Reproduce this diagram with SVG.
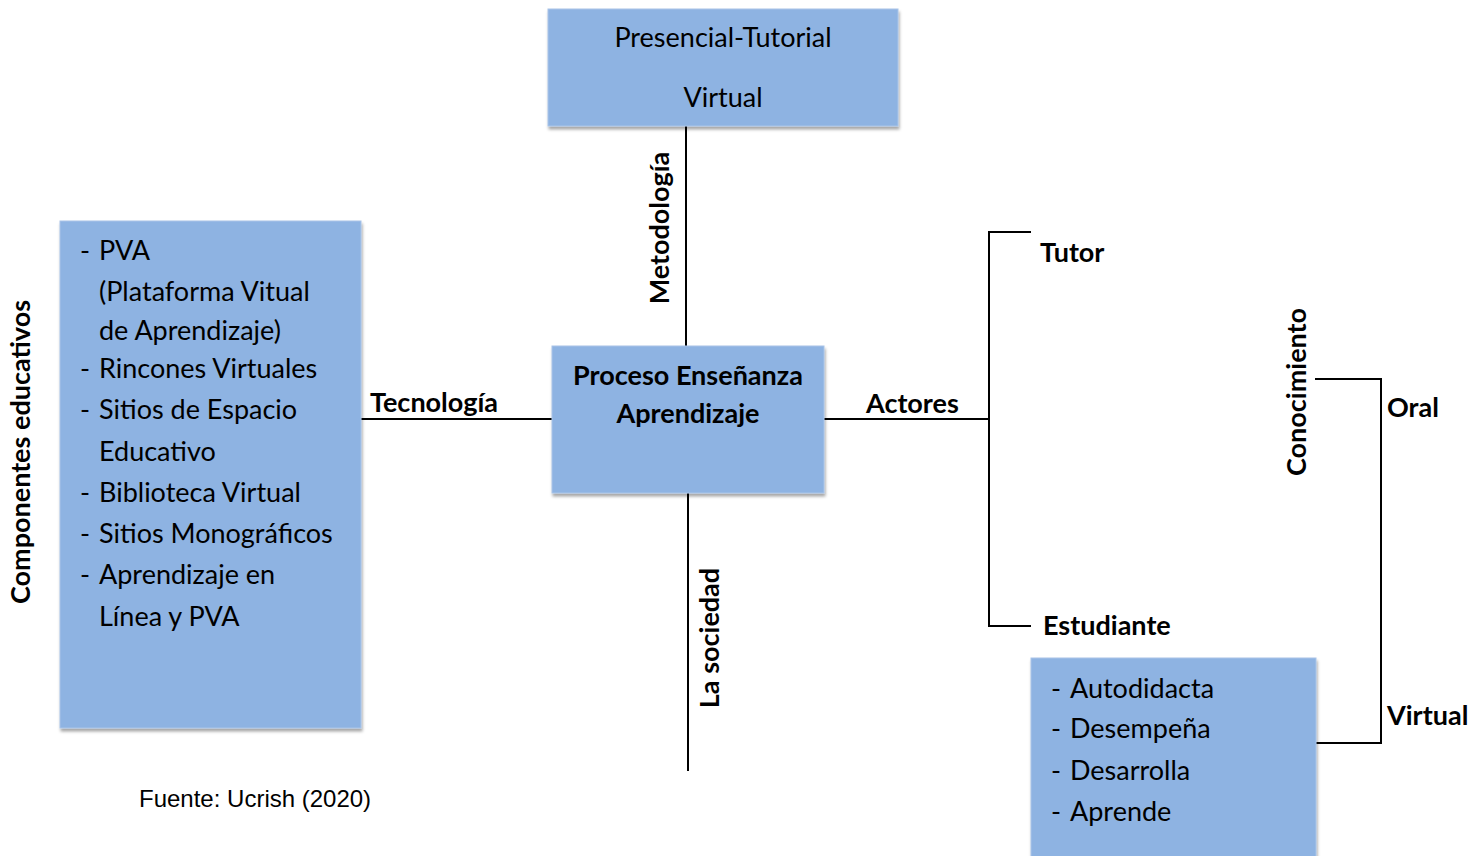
<svg xmlns="http://www.w3.org/2000/svg" width="1479" height="856" viewBox="0 0 1479 856">
<defs>
<filter id="sh" x="-5%" y="-5%" width="115%" height="115%">
<feDropShadow dx="1" dy="3" stdDeviation="1.5" flood-color="#000" flood-opacity="0.35"/>
</filter>
<style>
.box{fill:#8eb3e2;stroke:#a9c4e8;stroke-width:1;filter:url(#sh)}
.t{font-family:Lato,"Open Sans",sans-serif;font-size:27px;fill:#000}
.b{font-family:Lato,"Open Sans",sans-serif;font-size:27px;font-weight:bold;fill:#000}
.ln{stroke:#000;stroke-width:2;fill:none}
</style>
</defs>
<rect width="1479" height="856" fill="#fff"/>
<g id="connectors">
<line class="ln" x1="686" y1="126" x2="686" y2="346"/>
<line class="ln" x1="688" y1="493" x2="688" y2="771"/>
<line class="ln" x1="361" y1="419" x2="552" y2="419"/>
<line class="ln" x1="824" y1="419" x2="989" y2="419"/>
<polyline class="ln" points="1031,232 989,232 989,626 1031,626"/>
<polyline class="ln" points="1315,379 1381,379 1381,743 1315,743"/>
</g>
<g id="node-top">
<rect class="box" x="548" y="9" width="350" height="117"/>
<text class="t" x="723" y="47" text-anchor="middle">Presencial-Tutorial</text>
<text class="t" x="723" y="107" text-anchor="middle">Virtual</text>
</g>
<g id="node-center">
<rect class="box" x="552" y="346" width="272" height="147"/>
<text class="b" x="688" y="385" text-anchor="middle">Proceso Enseñanza</text>
<text class="b" x="688" y="423" text-anchor="middle">Aprendizaje</text>
</g>
<g id="node-left">
<rect class="box" x="60" y="221" width="301" height="507"/>
<text class="t" x="80" y="260">-</text><text class="t" x="99" y="260">PVA</text>
<text class="t" x="99" y="301">(Plataforma Vitual</text>
<text class="t" x="99" y="340">de Aprendizaje)</text>
<text class="t" x="80" y="378">-</text><text class="t" x="99" y="378">Rincones Virtuales</text>
<text class="t" x="80" y="419">-</text><text class="t" x="99" y="419">Sitios de Espacio</text>
<text class="t" x="99" y="461">Educativo</text>
<text class="t" x="80" y="502">-</text><text class="t" x="99" y="502">Biblioteca Virtual</text>
<text class="t" x="80" y="543">-</text><text class="t" x="99" y="543">Sitios Monográficos</text>
<text class="t" x="80" y="584">-</text><text class="t" x="99" y="584">Aprendizaje en</text>
<text class="t" x="99" y="626">Línea y PVA</text>
</g>
<g id="node-estudiante-box">
<rect class="box" x="1031" y="658" width="285" height="200"/>
<text class="t" x="1051" y="698">-</text><text class="t" x="1070" y="698">Autodidacta</text>
<text class="t" x="1051" y="738">-</text><text class="t" x="1070" y="738">Desempeña</text>
<text class="t" x="1051" y="780">-</text><text class="t" x="1070" y="780">Desarrolla</text>
<text class="t" x="1051" y="821">-</text><text class="t" x="1070" y="821">Aprende</text>
</g>
<g id="labels">
<text class="b" transform="translate(669,228) rotate(-90)" text-anchor="middle">Metodología</text>
<text class="b" transform="translate(719,638) rotate(-90)" text-anchor="middle">La sociedad</text>
<text class="b" transform="translate(30,452) rotate(-90)" text-anchor="middle">Componentes educativos</text>
<text class="b" transform="translate(1306,392) rotate(-90)" text-anchor="middle">Conocimiento</text>
<text class="b" x="370" y="412">Tecnología</text>
<text class="b" x="866" y="413">Actores</text>
<text class="b" x="1040" y="262">Tutor</text>
<text class="b" x="1043" y="635">Estudiante</text>
<text class="b" x="1387" y="417">Oral</text>
<text class="b" x="1387" y="725">Virtual</text>
<text x="139" y="807" font-family="'Liberation Sans',Arial,sans-serif" font-size="24" fill="#000">Fuente: Ucrish (2020)</text>
</g>
</svg>
